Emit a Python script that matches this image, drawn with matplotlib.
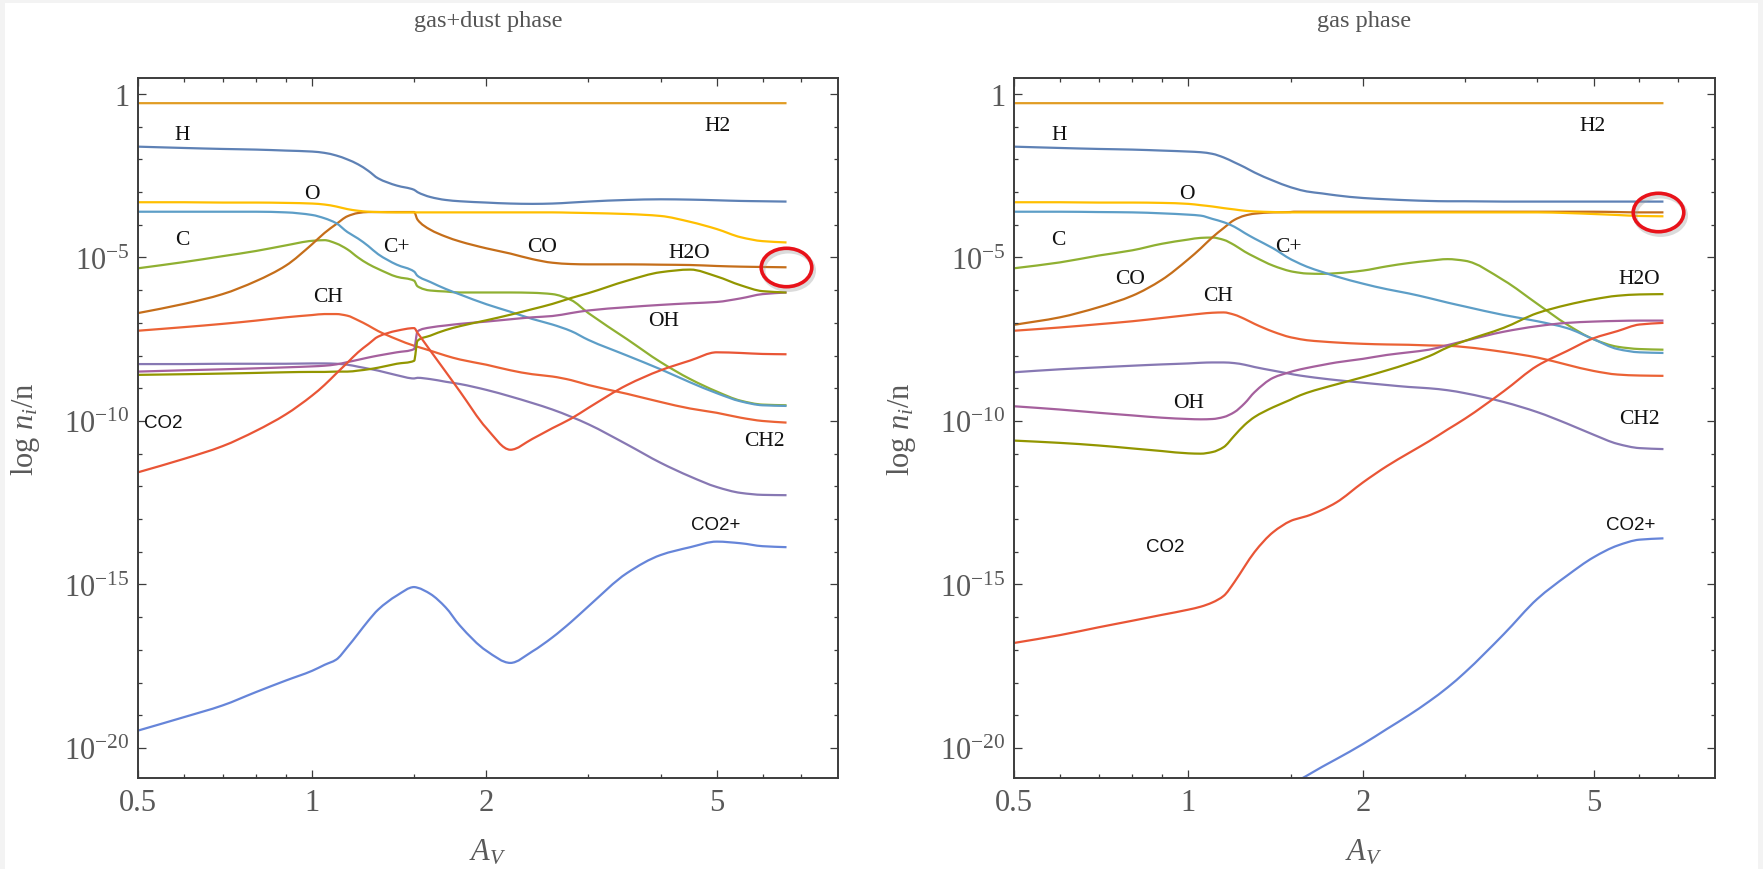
import numpy as np
import matplotlib
matplotlib.use('Agg')
import matplotlib.pyplot as plt
from matplotlib.path import Path
from matplotlib.markers import MarkerStyle
from matplotlib.transforms import Affine2D, offset_copy
from matplotlib.patches import Rectangle, PathPatch
from matplotlib.ticker import NullFormatter

plt.rcParams['font.family'] = ['Liberation Serif', 'DejaVu Serif']
plt.rcParams['mathtext.fontset'] = 'custom'
plt.rcParams['mathtext.rm'] = 'Liberation Serif'
plt.rcParams['mathtext.it'] = 'Liberation Serif:italic'

nan = np.nan

# visual extinction grid shared by all curves
av = [0.5, 0.6, 0.7, 0.8, 0.9, 1.0, 1.05, 1.1, 1.15, 1.2, 1.25, 1.3, 1.4, 1.5, 1.52,
      1.6, 1.7, 1.8, 2.0, 2.2, 2.4, 2.6, 2.8, 3.0, 3.5, 4.0, 4.5, 5.0, 5.5, 6.0, 6.6]

species = ['H', 'H2', 'C', 'CH', 'CH2', 'CO', 'C+', 'O', 'OH', 'H2O', 'CO2', 'CO2+']
colors = ['#5E81B5', '#E19C24', '#8FB032', '#EB6235', '#8778B3', '#C56E1A',
          '#5D9EC7', '#FFBF00', '#A5609D', '#929600', '#E95536', '#6685D9']

# ---- gas+dust model: log10(n_i/n) ----
dust_H = [-1.61, -1.65, -1.68, -1.70, -1.73, -1.76, -1.80, -1.88, -2.00, -2.15, -2.35, -2.58, -2.80, -2.93, -3.00,
          -3.15, -3.24, -3.28, -3.32, -3.35, -3.36, -3.35, -3.32, -3.29, -3.24, -3.22, -3.23, -3.25, -3.27, -3.28, -3.29]
dust_H2 = [-0.28, -0.28, -0.28, -0.28, -0.28, -0.28, -0.28, -0.28, -0.28, -0.28, -0.28, -0.28, -0.28, -0.28, -0.28,
           -0.28, -0.28, -0.28, -0.28, -0.28, -0.28, -0.28, -0.28, -0.28, -0.28, -0.28, -0.28, -0.28, -0.28, -0.28, -0.28]
dust_C = [-5.33, -5.14, -4.96, -4.80, -4.63, -4.49, -4.47, -4.57, -4.75, -5.00, -5.20, -5.35, -5.59, -5.71, -5.88,
          -6.01, -6.04, -6.07, -6.07, -6.07, -6.08, -6.12, -6.30, -6.70, -7.50, -8.20, -8.72, -9.10, -9.38, -9.50, -9.52]
dust_CH = [-7.24, -7.13, -7.03, -6.93, -6.83, -6.76, -6.73, -6.73, -6.78, -6.92, -7.08, -7.25, -7.50, -7.70, -7.73,
           -7.85, -8.00, -8.12, -8.28, -8.45, -8.57, -8.64, -8.75, -8.90, -9.17, -9.42, -9.62, -9.75, -9.90, -10.00, -10.05]
dust_CH2 = [-8.26, -8.26, -8.25, -8.25, -8.25, -8.24, -8.24, -8.25, -8.28, -8.34, -8.40, -8.46, -8.60, -8.70, -8.68,
            -8.72, -8.80, -8.87, -9.05, -9.25, -9.45, -9.65, -9.87, -10.10, -10.72, -11.28, -11.70, -12.02, -12.20, -12.26, -12.27]
dust_CO = [-6.70, -6.42, -6.12, -5.72, -5.25, -4.59, -4.25, -3.98, -3.74, -3.64, -3.61, -3.61, -3.61, -3.61, -3.84,
           -4.15, -4.36, -4.51, -4.72, -4.88, -5.05, -5.16, -5.20, -5.21, -5.21, -5.22, -5.23, -5.26, -5.28, -5.29, -5.30]
dust_Cp = [-3.60, -3.60, -3.60, -3.60, -3.62, -3.70, -3.80, -3.95, -4.22, -4.42, -4.65, -4.90, -5.22, -5.43, -5.56,
           -5.75, -5.96, -6.13, -6.43, -6.66, -6.88, -7.05, -7.25, -7.52, -8.00, -8.42, -8.82, -9.15, -9.40, -9.52, -9.54]
dust_O = [-3.31, -3.31, -3.32, -3.32, -3.33, -3.35, -3.38, -3.44, -3.52, -3.57, -3.60, -3.61, -3.62, -3.62, -3.62,
          -3.62, -3.62, -3.62, -3.62, -3.62, -3.62, -3.62, -3.63, -3.64, -3.67, -3.73, -3.91, -4.13, -4.38, -4.50, -4.54]
dust_OH = [-8.49, -8.45, -8.42, -8.39, -8.36, -8.33, -8.31, -8.27, -8.20, -8.13, -8.06, -8.00, -7.90, -7.80, -7.26,
           -7.14, -7.08, -7.03, -6.96, -6.89, -6.83, -6.79, -6.70, -6.62, -6.52, -6.45, -6.40, -6.36, -6.25, -6.12, -6.07]
dust_H2O = [-8.59, -8.57, -8.55, -8.53, -8.51, -8.50, -8.50, -8.49, -8.49, -8.46, -8.42, -8.37, -8.25, -8.16, -7.55,
            -7.39, -7.22, -7.10, -6.92, -6.75, -6.58, -6.42, -6.24, -6.09, -5.71, -5.45, -5.37, -5.58, -5.85, -6.03, -6.07]
dust_CO2 = [-11.57, -11.16, -10.77, -10.30, -9.80, -9.22, -8.90, -8.55, -8.22, -7.90, -7.65, -7.42, -7.24, -7.16, -7.30,
            -7.85, -8.49, -9.10, -10.22, -10.88, -10.55, -10.22, -9.93, -9.60, -8.90, -8.45, -8.15, -7.90, -7.92, -7.95, -7.96]
dust_CO2p = [-19.47, -19.06, -18.70, -18.29, -17.94, -17.64, -17.46, -17.30, -16.92, -16.51, -16.11, -15.77, -15.34, -15.08, -15.10,
             -15.29, -15.70, -16.26, -17.03, -17.40, -17.05, -16.62, -16.15, -15.67, -14.65, -14.10, -13.86, -13.69, -13.74, -13.83, -13.86]

# ---- gas-phase model: log10(n_i/n) ----
gas_H = [-1.61, -1.65, -1.68, -1.70, -1.73, -1.76, -1.78, -1.83, -1.94, -2.09, -2.24, -2.40, -2.65, -2.85, -2.88,
         -2.98, -3.04, -3.10, -3.18, -3.22, -3.25, -3.27, -3.28, -3.28, -3.29, -3.29, -3.29, -3.29, -3.29, -3.29, -3.29]
gas_H2 = [-0.28, -0.28, -0.28, -0.28, -0.28, -0.28, -0.28, -0.28, -0.28, -0.28, -0.28, -0.28, -0.28, -0.28, -0.28,
          -0.28, -0.28, -0.28, -0.28, -0.28, -0.28, -0.28, -0.28, -0.28, -0.28, -0.28, -0.28, -0.28, -0.28, -0.28, -0.28]
gas_C = [-5.33, -5.15, -4.94, -4.78, -4.58, -4.45, -4.40, -4.39, -4.46, -4.62, -4.82, -4.98, -5.25, -5.42, -5.44,
         -5.49, -5.50, -5.48, -5.40, -5.27, -5.17, -5.10, -5.05, -5.10, -5.70, -6.42, -7.05, -7.50, -7.73, -7.80, -7.82]
gas_CH = [-7.24, -7.14, -7.04, -6.95, -6.85, -6.76, -6.72, -6.69, -6.68, -6.75, -6.88, -7.03, -7.27, -7.44, -7.46,
          -7.53, -7.57, -7.60, -7.64, -7.66, -7.67, -7.69, -7.70, -7.74, -7.89, -8.06, -8.28, -8.47, -8.58, -8.61, -8.62]
gas_CH2 = [-8.51, -8.42, -8.36, -8.31, -8.27, -8.24, -8.22, -8.21, -8.21, -8.23, -8.28, -8.35, -8.46, -8.56, -8.58,
           -8.64, -8.70, -8.75, -8.83, -8.90, -8.96, -9.00, -9.06, -9.15, -9.42, -9.73, -10.08, -10.42, -10.70, -10.83, -10.86]
gas_CO = [-7.06, -6.83, -6.52, -6.17, -5.68, -5.05, -4.72, -4.38, -4.10, -3.85, -3.72, -3.66, -3.62, -3.61, -3.60,
          -3.60, -3.60, -3.60, -3.60, -3.60, -3.60, -3.60, -3.60, -3.60, -3.60, -3.60, -3.60, -3.60, -3.61, -3.62, -3.62]
gas_Cp = [-3.60, -3.60, -3.61, -3.62, -3.65, -3.69, -3.72, -3.82, -3.92, -4.06, -4.25, -4.42, -4.72, -5.05, -5.10,
          -5.28, -5.44, -5.58, -5.80, -5.97, -6.10, -6.24, -6.38, -6.50, -6.76, -6.95, -7.16, -7.50, -7.80, -7.90, -7.92]
gas_O = [-3.31, -3.31, -3.32, -3.32, -3.33, -3.36, -3.40, -3.44, -3.49, -3.53, -3.57, -3.59, -3.61, -3.62, -3.62,
         -3.62, -3.62, -3.62, -3.62, -3.62, -3.62, -3.62, -3.62, -3.62, -3.62, -3.62, -3.64, -3.67, -3.70, -3.73, -3.74]
gas_OH = [-9.55, -9.65, -9.75, -9.83, -9.90, -9.94, -9.95, -9.94, -9.88, -9.73, -9.46, -9.12, -8.68, -8.50, -8.47,
          -8.38, -8.29, -8.21, -8.10, -7.98, -7.90, -7.82, -7.68, -7.55, -7.27, -7.10, -7.00, -6.96, -6.94, -6.93, -6.93]
gas_H2O = [-10.60, -10.67, -10.75, -10.84, -10.92, -10.99, -11.00, -10.95, -10.80, -10.45, -10.12, -9.88, -9.58, -9.35, -9.30,
           -9.14, -9.00, -8.88, -8.66, -8.45, -8.24, -8.02, -7.75, -7.55, -7.15, -6.70, -6.45, -6.28, -6.17, -6.13, -6.12]
gas_CO2 = [-16.79, -16.55, -16.31, -16.11, -15.93, -15.77, -15.68, -15.55, -15.35, -14.93, -14.45, -14.01, -13.40, -13.06, -13.02,
           -12.91, -12.72, -12.49, -11.88, -11.38, -10.98, -10.62, -10.26, -9.93, -9.09, -8.31, -7.86, -7.47, -7.25, -7.05, -7.00]
gas_CO2p = [nan, nan, nan, nan, nan, nan, nan, nan, nan, nan, nan, nan, nan, -21.13, -21.07,
            -20.85, -20.58, -20.34, -19.88, -19.42, -19.00, -18.58, -18.15, -17.69, -16.52, -15.44, -14.73, -14.17, -13.81, -13.63, -13.59]

dust_series = [dust_H, dust_H2, dust_C, dust_CH, dust_CH2, dust_CO, dust_Cp, dust_O, dust_OH, dust_H2O, dust_CO2, dust_CO2p]
gas_series = [gas_H, gas_H2, gas_C, gas_CH, gas_CH2, gas_CO, gas_Cp, gas_O, gas_OH, gas_H2O, gas_CO2, gas_CO2p]

# curve labels: (text, AV, log10 abundance)
dust_labels = [('H', 0.596, -1.25), ('H2', 5.01, -0.95), ('O', 0.997, -3.03), ('C', 0.596, -4.45),
               ('C+', 1.40, -4.67), ('CO', 2.50, -4.67), ('H2O', 4.49, -4.86), ('CH', 1.063, -6.19),
               ('OH', 4.04, -6.92), ('CO2', 0.552, -10.04), ('CH2', 6.04, -10.60), ('CO2+', 4.97, -13.18)]
gas_labels = [('H', 0.597, -1.25), ('H2', 4.97, -0.95), ('O', 0.995, -3.03), ('C', 0.597, -4.45),
              ('C+', 1.49, -4.67), ('CO', 0.793, -5.64), ('CH', 1.123, -6.16), ('H2O', 6.0, -5.63),
              ('OH', 0.999, -9.42), ('CH2', 6.0, -9.91), ('CO2', 0.913, -13.84), ('CO2+', 5.79, -13.16)]

# highlighted end points
dust_ring = (6.58, -5.30)
gas_ring = (6.45, -3.62)

W, H = 1763, 870
fig = plt.figure(figsize=(W / 100, H / 100), dpi=100)
fig.patch.set_facecolor('#f3f3f3')
fig.add_artist(Rectangle((5 / W, 0), 1753 / W, 866 / H, transform=fig.transFigure,
                         facecolor='white', edgecolor='none', zorder=-10))

txt_gray = '#595959'
frame_gray = '#3c3c3c'

ring_path = Path.unit_circle().transformed(Affine2D().scale(1.0, 0.76))
ring = MarkerStyle(ring_path)


def curve_path(xs, ys):
    # cubic pieces through every sample (shape-preserving slopes, log-log space)
    ok = ~np.isnan(ys)
    lx = np.log10(np.asarray(xs)[ok])
    ly = np.asarray(ys)[ok]
    h = np.diff(lx)
    d = np.diff(ly) / h
    m = np.zeros(len(lx))
    m[0], m[-1] = d[0], d[-1]
    for i in range(1, len(lx) - 1):
        if d[i - 1] * d[i] > 0:
            w1 = 2 * h[i] + h[i - 1]
            w2 = h[i] + 2 * h[i - 1]
            m[i] = (w1 + w2) / (w1 / d[i - 1] + w2 / d[i])
    verts = [(lx[0], ly[0])]
    codes = [Path.MOVETO]
    for i in range(len(lx) - 1):
        verts += [(lx[i] + h[i] / 3, ly[i] + m[i] * h[i] / 3),
                  (lx[i + 1] - h[i] / 3, ly[i + 1] - m[i + 1] * h[i] / 3),
                  (lx[i + 1], ly[i + 1])]
        codes += [Path.CURVE4] * 3
    return Path(10.0 ** np.array(verts), codes)


def draw_panel(ax, series, labels, ring_at):
    for vals, col in zip(series, colors):
        ax.add_patch(PathPatch(curve_path(av, np.array(vals)), facecolor='none',
                               edgecolor=col, lw=1.6, joinstyle='round', capstyle='butt'))

    for name, lx, ly in labels:
        if name.startswith('CO2'):
            ax.text(lx, 10.0 ** ly, name, ha='center', va='center', fontsize=13.5,
                    family=['Liberation Sans', 'DejaVu Sans'], color='#111111')
        else:
            ax.text(lx, 10.0 ** ly, name, ha='center', va='center', fontsize=15.5, color='#111111')

    # soft shadow, then red ring
    shadow = offset_copy(ax.transData, fig=fig, x=2, y=-3, units='dots')
    ax.plot([ring_at[0]], [10.0 ** ring_at[1]], marker=ring, ms=36.4, mfc='none', mec='#9a9a9a',
            mew=3.2, alpha=0.35, ls='none', transform=shadow, clip_on=False, zorder=6)
    ax.plot([ring_at[0]], [10.0 ** ring_at[1]], marker=ring, ms=36.4, mfc='none', mec='#e8121a',
            mew=2.6, ls='none', clip_on=False, zorder=7)

    ax.set_xscale('log')
    ax.set_yscale('log')
    ax.set_xlim(0.5, 8.1)
    ax.set_ylim(10 ** -20.92, 10 ** 0.49)

    ax.set_xticks([0.5, 1, 2, 5])
    ax.set_xticklabels(['0.5', '1', '2', '5'])
    ax.set_xticks([0.6, 0.7, 0.8, 0.9, 1.5, 3, 4, 6, 7], minor=True)
    ax.xaxis.set_minor_formatter(NullFormatter())
    ax.set_yticks([1e-20, 1e-15, 1e-10, 1e-5, 1])
    ax.set_yticklabels([r'$10^{-20}$', r'$10^{-15}$', r'$10^{-10}$', r'$10^{-5}$', '1'])
    ax.set_yticks([10.0 ** k for k in range(-20, 1) if k % 5], minor=True)
    ax.yaxis.set_minor_formatter(NullFormatter())

    ax.tick_params(which='both', direction='in', top=True, right=True, color=frame_gray,
                   width=0.9, labelsize=22, labelcolor=txt_gray)
    ax.tick_params(which='major', length=5.5)
    ax.tick_params(which='minor', length=3)
    ax.tick_params(axis='x', pad=7)
    ax.tick_params(axis='y', pad=6)
    for sp in ax.spines.values():
        sp.set_color(frame_gray)
        sp.set_linewidth(1.4)


ax1 = fig.add_axes([138 / W, 1 - 779 / H, 700 / W, 700 / H])
ax2 = fig.add_axes([1014 / W, 1 - 779 / H, 701 / W, 700 / H])
draw_panel(ax1, dust_series, dust_labels, dust_ring)
draw_panel(ax2, gas_series, gas_labels, gas_ring)

for cx, title in [(488, 'gas+dust phase'), (1364, 'gas phase')]:
    fig.text(cx / W, 1 - 22 / H, title, ha='center', va='center', fontsize=17.5, color='#555555')
    fig.text(cx / W, 1 - 853 / H, r'$A_V$', ha='center', va='center', fontsize=22, color=txt_gray)
for lx in [25, 902]:
    fig.text(lx / W, 1 - 429 / H, r'$\log\,n_i/\mathrm{n}$', ha='center', va='center',
             rotation=90, fontsize=22, color=txt_gray)

fig.savefig('out.png', dpi=100, facecolor=fig.get_facecolor())
